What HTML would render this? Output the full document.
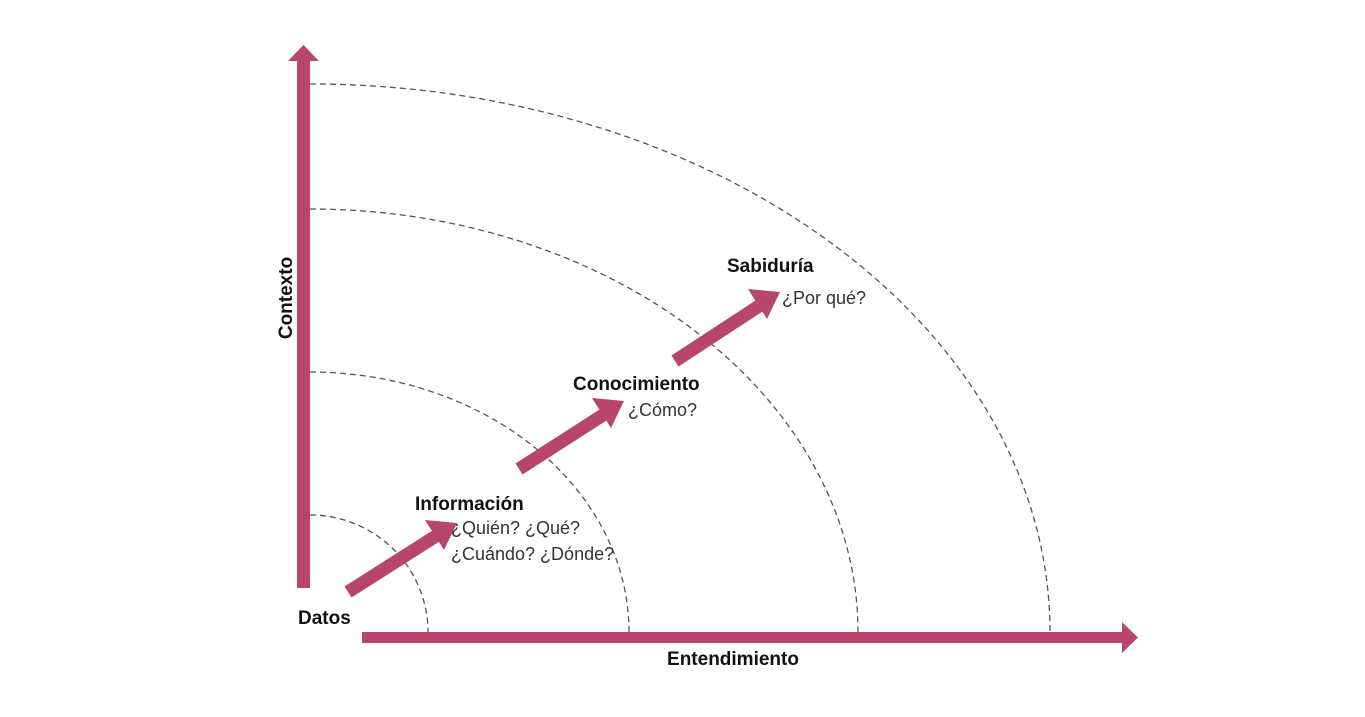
<!DOCTYPE html>
<html><head><meta charset="utf-8"><style>
html,body{margin:0;padding:0;background:#fff;}
svg{display:block;}
text{font-family:"Liberation Sans",sans-serif;fill:#111;}
.b{font-weight:bold;font-size:19px;}
.n{font-size:18px;fill:#333;}
</style></head><body>
<svg width="1365" height="717" viewBox="0 0 1365 717">
<g fill="none" stroke="#555" stroke-width="1.3" stroke-dasharray="6,4">
<path d="M310 515 A118 117 0 0 1 428 632"/>
<path d="M310 372 A319 260 0 0 1 629 632"/>
<path d="M310 209 A548 423 0 0 1 858 632"/>
<path d="M310 84 A740 548 0 0 1 1050 632"/>
</g>
<g fill="#b8456e">
<rect x="297" y="60" width="13" height="528"/>
<polygon points="288,61 319,61 303.5,45"/>
<rect x="362" y="632" width="762" height="11"/>
<polygon points="1122,622 1122,653 1138,637.5"/>
</g>
<g stroke="#b8456e" stroke-width="13" fill="#b8456e">
<line x1="348" y1="592" x2="436" y2="536"/>
<line x1="519" y1="469" x2="603" y2="415"/>
<line x1="675" y1="361" x2="759" y2="306"/>
</g>
<g fill="#b8456e">
<polygon points="457,523 425,520 444,550"/>
<polygon points="624,401 592,398 611,428"/>
<polygon points="780,292 748,289 767,319"/>
</g>
<text class="b" transform="translate(292,298) rotate(-90)" text-anchor="middle">Contexto</text>
<text class="b" x="733" y="665" text-anchor="middle">Entendimiento</text>
<text class="b" x="298" y="624">Datos</text>
<text class="b" x="415" y="510">Información</text>
<text class="n" x="451" y="534">¿Quién? ¿Qué?</text>
<text class="n" x="451" y="560">¿Cuándo? ¿Dónde?</text>
<text class="b" x="573" y="390">Conocimiento</text>
<text class="n" x="628" y="416">¿Cómo?</text>
<text class="b" x="727" y="272">Sabiduría</text>
<text class="n" x="782" y="304">¿Por qué?</text>
</svg>
</body></html>
